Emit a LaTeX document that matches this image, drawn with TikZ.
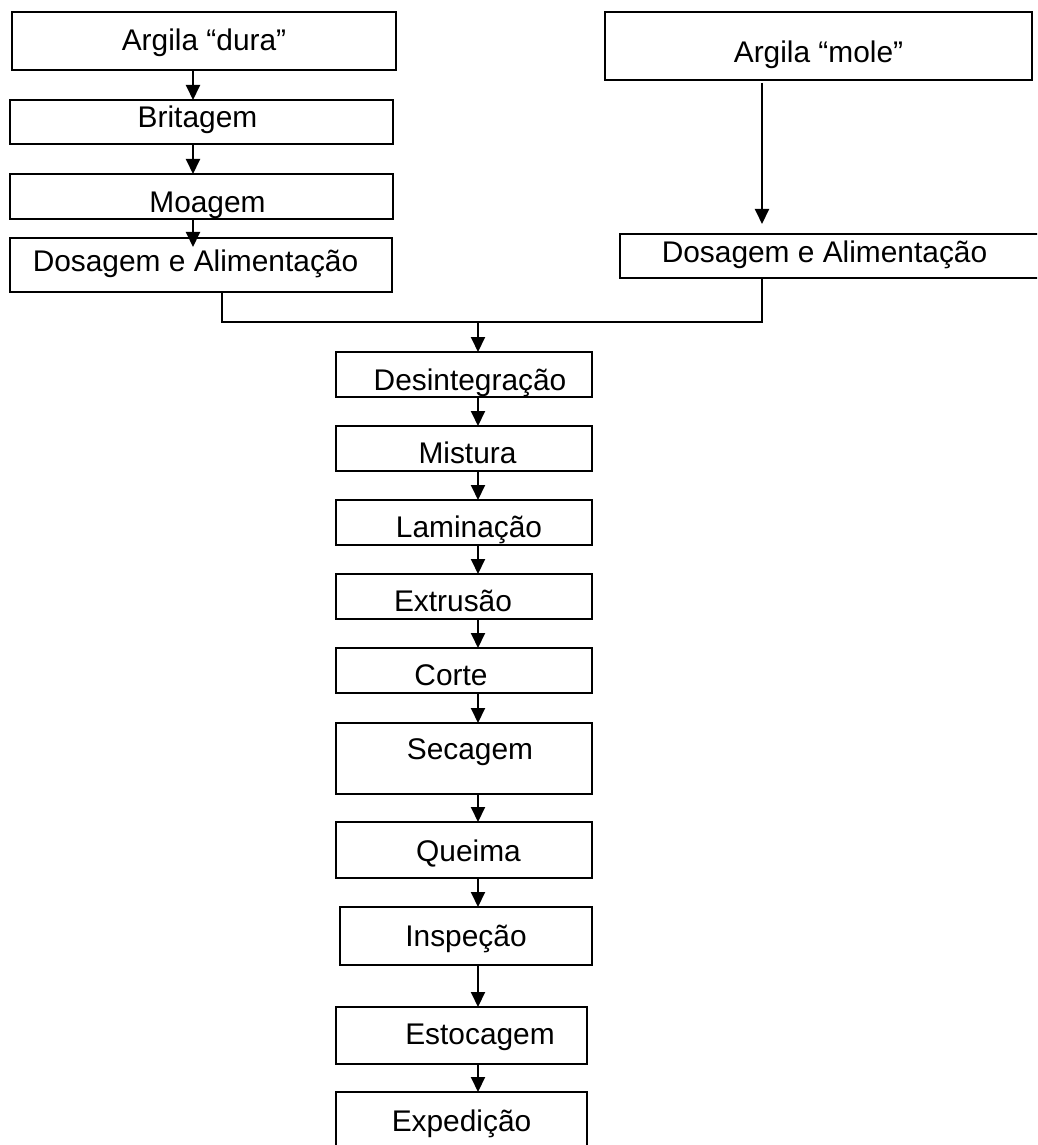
\documentclass[tikz,border=0pt]{standalone}
\usepackage{fontspec}
\setmainfont{Liberation Sans}
\usetikzlibrary{arrows.meta}

\begin{document}
\begin{tikzpicture}[
  font=\fontsize{17pt}{20pt}\selectfont, >={Triangle[length=0.3cm,width=0.28cm]},
  box/.style={draw, line width=1.1pt, inner sep=0pt, outer sep=0pt,
              text height=0.36cm, text depth=0.12cm},
  mid/.style={box, minimum width=5.12cm, minimum height=0.9cm},
  tshift/.style={execute at begin node=\hspace*{#1}},
  arr/.style={->, line width=1.1pt},
  link/.style={line width=1.1pt},
]
\useasboundingbox (0,0) rectangle (20.74,-22.9);
\clip (0,0) rectangle (20.74,-22.9);

% argila dura
\node[box, minimum width=7.68cm, minimum height=1.16cm, text height=0.5cm] (dura) at (4.08,-0.82) {Argila “dura”};
\node[box, minimum width=7.66cm, minimum height=0.88cm, text height=0.36cm, tshift=-0.16cm] (brit) at (4.03,-2.44) {Britagem};
\node[box, minimum width=7.66cm, minimum height=0.90cm, text height=0.76cm, tshift=0.24cm] (moag) at (4.03,-3.93) {Moagem};
\node[box, minimum width=7.64cm, minimum height=1.08cm, text height=0.38cm, tshift=-0.22cm] (dosL) at (4.02,-5.30) {Dosagem e Alimentação};

% argila mole
\node[box, minimum width=8.54cm, minimum height=1.36cm, text height=0.8cm] (mole) at (16.37,-0.92) {Argila “mole”};
\node[box, minimum width=8.50cm, minimum height=0.88cm, text height=0.4cm, tshift=-0.32cm] (dosR) at (16.65,-5.12) {Dosagem e Alimentação};

% linha principal
\node[mid, text height=0.74cm, tshift=0.24cm] (des) at (9.28,-7.49) {Desintegração};
\node[mid, text height=0.72cm, tshift=0.14cm] (mist) at (9.28,-8.97) {Mistura};
\node[mid, text height=0.72cm, tshift=0.2cm] (lam) at (9.28,-10.45) {Laminação};
\node[mid, text height=0.72cm, tshift=-0.44cm] (ext) at (9.28,-11.93) {Extrusão};
\node[mid, text height=0.72cm, tshift=-0.52cm] (cort) at (9.28,-13.41) {Corte};
\node[mid, minimum height=1.42cm, text height=0.16cm, tshift=0.24cm] (sec) at (9.28,-15.17) {Secagem};
\node[mid, minimum height=1.12cm, text height=0.56cm, tshift=0.18cm] (quei) at (9.28,-17.00) {Queima};
\node[box, minimum width=5.04cm, minimum height=1.16cm, text height=0.52cm] (insp) at (9.32,-18.72) {Inspeção};
\node[box, minimum width=5.02cm, minimum height=1.14cm, text height=0.46cm, tshift=0.74cm] (esto) at (9.23,-20.71) {Estocagem};
\node[box, minimum width=5.02cm, minimum height=1.36cm, text height=0.34cm] (exped) at (9.23,-22.52) {Expedição};

\coordinate (colL) at (3.86,0);
\coordinate (jL) at (4.44,-6.44);
\coordinate (jM) at (9.56,-6.44);
\coordinate (jR) at (15.24,-6.44);

\draw[arr] (dura.south -| colL) -- (brit.north -| colL);
\draw[arr] (brit.south -| colL) -- (moag.north -| colL);
\draw[arr, shorten >=-0.18cm] (moag.south -| colL) -- (dosL.north -| colL);
\draw[arr, shorten <=0.06cm, shorten >=0.2cm] (mole.south -| jR) -- (dosR.north -| jR);
\draw[link] (dosL.south -| jL) -- (jL) -- (jR) -- (dosR.south -| jR);
\draw[arr] (jM) -- (des.north -| jM);
\foreach \a/\b in {des/mist, mist/lam, lam/ext, ext/cort, cort/sec, sec/quei, quei/insp, insp/esto, esto/exped}
  \draw[arr] (\a.south -| jM) -- (\b.north -| jM);
\end{tikzpicture}
\end{document}
